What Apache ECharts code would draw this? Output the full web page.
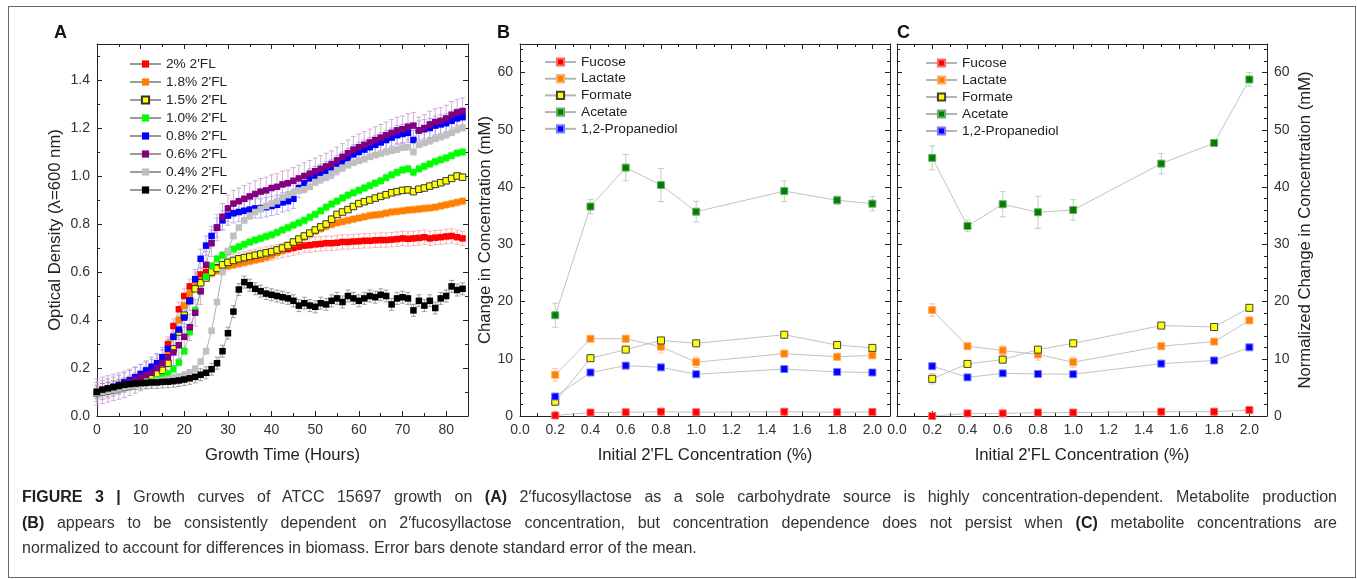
<!DOCTYPE html>
<html>
<head>
<meta charset="utf-8">
<script src="https://cdn.jsdelivr.net/npm/echarts@6/dist/echarts.min.js"></script>
<style>
  body { margin: 0; background: #fff; }
  #frame { position: absolute; left: 8px; top: 6px; width: 1346px; height: 570px; border: 1px solid #666; }
  #chart { position: absolute; left: 0; top: 0; width: 1357px; height: 579px; }
  #caption {
    position: absolute; left: 22px; top: 484px; width: 1315px;
    font-family: 'Liberation Sans', Arial, sans-serif; font-size: 16px; line-height: 25.5px; color: #333;
  }
  #caption .j { text-align: justify; text-align-last: justify; }
  #caption b { color: #222; }
</style>
</head>
<body>
<div id="frame"></div>
<div id="chart"></div>
<div id="caption">
  <div class="j"><b>FIGURE 3 |</b> Growth curves of ATCC 15697 growth on <b>(A)</b> 2′fucosyllactose as a sole carbohydrate source is highly concentration-dependent. Metabolite production</div>
  <div class="j"><b>(B)</b> appears to be consistently dependent on 2′fucosyllactose concentration, but concentration dependence does not persist when <b>(C)</b> metabolite concentrations are</div>
  <div>normalized to account for differences in biomass. Error bars denote standard error of the mean.</div>
</div>
<script>
// ---- panel A : growth curves ----
const timeA = [0, 1.25, 2.5, 3.75, 5, 6.25, 7.5, 8.75,
  10, 11.25, 12.5, 13.75, 15, 16.25, 17.5, 18.75,
  20, 21.25, 22.5, 23.75, 25, 26.25, 27.5, 28.75,
  30, 31.25, 32.5, 33.75, 35, 36.25, 37.5, 38.75,
  40, 41.25, 42.5, 43.75, 45, 46.25, 47.5, 48.75,
  50, 51.25, 52.5, 53.75, 55, 56.25, 57.5, 58.75,
  60, 61.25, 62.5, 63.75, 65, 66.25, 67.5, 68.75,
  70, 71.25, 72.5, 73.75, 75, 76.25, 77.5, 78.75,
  80, 81.25, 82.5, 83.75]

const namesA = ["2% 2'FL", "1.8% 2'FL", "1.5% 2'FL", "1.0% 2'FL", "0.8% 2'FL", "0.6% 2'FL", "0.4% 2'FL", "0.2% 2'FL"]
const colorsA = ['#ff0000', '#ff7f00', '#ffff00', '#00ff00', '#0000ff', '#800080', '#c0c0c0', '#000000']
const errColorsA = ['#f5a3a3', '#f9c796', '#c9c97a', '#99e699', '#9d9dff', '#c99ac9', '#d6d6d6', '#8a8a8a']
const seA = [0.03, 0.015, 0.01, 0.015, 0.04, 0.055, 0.012, 0.025]

const od2 = [0.100, 0.105, 0.110, 0.118, 0.124, 0.130, 0.140, 0.150,
  0.160, 0.175, 0.190, 0.210, 0.245, 0.300, 0.375, 0.445,
  0.500, 0.540, 0.570, 0.590, 0.600, 0.610, 0.620, 0.630,
  0.640, 0.645, 0.650, 0.655, 0.660, 0.665, 0.670, 0.675,
  0.680, 0.685, 0.690, 0.695, 0.700, 0.705, 0.710, 0.712,
  0.715, 0.717, 0.720, 0.720, 0.722, 0.725, 0.725, 0.727,
  0.728, 0.730, 0.730, 0.732, 0.733, 0.733, 0.735, 0.737,
  0.740, 0.738, 0.740, 0.742, 0.745, 0.740, 0.743, 0.745,
  0.748, 0.750, 0.745, 0.740]
const od18 = [0.100, 0.105, 0.110, 0.117, 0.123, 0.128, 0.137, 0.146,
  0.155, 0.167, 0.180, 0.198, 0.220, 0.260, 0.330, 0.400,
  0.460, 0.510, 0.545, 0.565, 0.580, 0.595, 0.605, 0.615,
  0.625, 0.630, 0.635, 0.640, 0.645, 0.650, 0.655, 0.662,
  0.670, 0.680, 0.690, 0.705, 0.720, 0.733, 0.745, 0.758,
  0.770, 0.780, 0.790, 0.798, 0.805, 0.810, 0.815, 0.820,
  0.825, 0.830, 0.835, 0.838, 0.840, 0.845, 0.850, 0.852,
  0.855, 0.858, 0.860, 0.862, 0.865, 0.867, 0.870, 0.875,
  0.880, 0.885, 0.890, 0.895]
const od15 = [0.095, 0.100, 0.105, 0.110, 0.115, 0.120, 0.127, 0.135,
  0.143, 0.152, 0.162, 0.175, 0.190, 0.220, 0.280, 0.350,
  0.420, 0.480, 0.530, 0.555, 0.575, 0.600, 0.615, 0.630,
  0.640, 0.648, 0.655, 0.660, 0.665, 0.670, 0.675, 0.680,
  0.685, 0.692, 0.700, 0.710, 0.725, 0.737, 0.750, 0.762,
  0.775, 0.788, 0.800, 0.820, 0.840, 0.850, 0.860, 0.873,
  0.885, 0.893, 0.900, 0.908, 0.915, 0.922, 0.930, 0.935,
  0.940, 0.942, 0.935, 0.945, 0.950, 0.958, 0.965, 0.972,
  0.980, 0.990, 1.000, 0.995]
const od10 = [0.095, 0.100, 0.105, 0.110, 0.115, 0.120, 0.125, 0.130,
  0.135, 0.140, 0.145, 0.152, 0.162, 0.175, 0.195, 0.223,
  0.270, 0.350, 0.440, 0.520, 0.580, 0.625, 0.655, 0.670,
  0.685, 0.695, 0.705, 0.715, 0.725, 0.733, 0.740, 0.748,
  0.755, 0.765, 0.775, 0.785, 0.795, 0.805, 0.815, 0.828,
  0.840, 0.855, 0.870, 0.883, 0.895, 0.908, 0.920, 0.930,
  0.940, 0.950, 0.960, 0.970, 0.980, 0.993, 1.005, 1.015,
  1.025, 1.030, 1.015, 1.030, 1.040, 1.050, 1.060, 1.068,
  1.075, 1.085, 1.095, 1.100]
const od08 = [0.100, 0.108, 0.115, 0.122, 0.130, 0.140, 0.150, 0.162,
  0.175, 0.190, 0.205, 0.220, 0.245, 0.280, 0.330, 0.360,
  0.410, 0.480, 0.570, 0.655, 0.710, 0.750, 0.785, 0.815,
  0.835, 0.845, 0.850, 0.855, 0.860, 0.865, 0.865, 0.870,
  0.875, 0.880, 0.890, 0.895, 0.905, 0.950, 0.970, 0.990,
  1.000, 1.010, 1.020, 1.030, 1.045, 1.060, 1.075, 1.090,
  1.100, 1.110, 1.120, 1.130, 1.140, 1.150, 1.160, 1.170,
  1.175, 1.180, 1.150, 1.190, 1.195, 1.200, 1.210, 1.215,
  1.220, 1.230, 1.240, 1.245]
const od06 = [0.100, 0.107, 0.113, 0.119, 0.125, 0.132, 0.140, 0.150,
  0.160, 0.170, 0.180, 0.200, 0.220, 0.245, 0.265, 0.295,
  0.330, 0.370, 0.430, 0.520, 0.630, 0.720, 0.785, 0.830,
  0.865, 0.885, 0.895, 0.905, 0.915, 0.925, 0.935, 0.940,
  0.950, 0.955, 0.965, 0.970, 0.980, 0.990, 1.000, 1.010,
  1.020, 1.030, 1.040, 1.050, 1.065, 1.080, 1.095, 1.110,
  1.120, 1.130, 1.140, 1.150, 1.160, 1.170, 1.180, 1.190,
  1.195, 1.205, 1.210, 1.190, 1.200, 1.215, 1.225, 1.230,
  1.240, 1.255, 1.265, 1.270]
const od04 = [0.095, 0.100, 0.105, 0.110, 0.115, 0.120, 0.125, 0.130,
  0.135, 0.138, 0.142, 0.146, 0.150, 0.155, 0.160, 0.165,
  0.172, 0.182, 0.197, 0.227, 0.270, 0.355, 0.475, 0.600,
  0.687, 0.750, 0.785, 0.815, 0.835, 0.850, 0.862, 0.875,
  0.885, 0.895, 0.910, 0.920, 0.930, 0.940, 0.945, 0.955,
  0.975, 0.987, 0.995, 1.010, 1.025, 1.035, 1.045, 1.055,
  1.063, 1.070, 1.080, 1.087, 1.093, 1.100, 1.105, 1.110,
  1.118, 1.120, 1.100, 1.130, 1.138, 1.145, 1.155, 1.162,
  1.170, 1.180, 1.192, 1.200]
const od02 = [0.100, 0.110, 0.115, 0.120, 0.125, 0.130, 0.133, 0.135,
  0.137, 0.138, 0.140, 0.140, 0.142, 0.143, 0.145, 0.148,
  0.152, 0.157, 0.163, 0.172, 0.180, 0.195, 0.220, 0.270,
  0.345, 0.435, 0.527, 0.558, 0.545, 0.530, 0.520, 0.510,
  0.505, 0.500, 0.495, 0.490, 0.480, 0.460, 0.470, 0.460,
  0.455, 0.470, 0.465, 0.480, 0.490, 0.475, 0.500, 0.490,
  0.480, 0.490, 0.500, 0.495, 0.505, 0.500, 0.465, 0.490,
  0.495, 0.490, 0.440, 0.480, 0.460, 0.480, 0.450, 0.490,
  0.500, 0.540, 0.525, 0.530]
const valuesA = [od2, od18, od15, od10, od08, od06, od04, od02]

// ---- panels B and C : metabolites ----
const concB = [0.2, 0.4, 0.6, 0.8, 1.0, 1.5, 1.8, 2.0]
const metNames = ['Fucose', 'Lactate', 'Formate', 'Acetate', '1,2-Propanediol']
const metColors = ['#ff0000', '#ff7f00', '#ffff00', '#008000', '#0000ff']
const metBorders = ['#ff6a6a', '#ffad66', '#404040', '#6fae6f', '#7c7cff']
const metErrColors = ['#700000', '#f7b98a', '#d9b98a', '#9fcf9f', '#9d9dff']

const fucoseB = [0.1, 0.6, 0.65, 0.75, 0.65, 0.75, 0.65, 0.7]
const lactateB = [7.2, 13.5, 13.5, 12.1, 9.4, 10.9, 10.35, 10.6]
const formateB = [2.5, 10.1, 11.6, 13.2, 12.7, 14.2, 12.4, 11.9]
const acetateB = [17.6, 36.6, 43.4, 40.35, 35.7, 39.3, 37.7, 37.1]
const propB = [3.4, 7.6, 8.8, 8.5, 7.3, 8.2, 7.7, 7.6]
const fucoseBErr = [0.5, 0.5, 0.5, 0.5, 0.5, 0.5, 0.5, 0.5]
const lactateBErr = [1.1, 0.3, 0.6, 1.1, 0.9, 0.6, 0.3, 0.3]
const formateBErr = [0.6, 0.4, 0.4, 0.4, 0.3, 0.3, 0.3, 0.4]
const acetateBErr = [2.1, 1.25, 2.3, 2.9, 1.8, 1.8, 0.75, 1.25]
const propBErr = [0.3, 0.3, 0.3, 0.3, 0.3, 0.3, 0.3, 0.3]

const fucoseC = [0.0, 0.45, 0.45, 0.6, 0.6, 0.75, 0.75, 1.05]
const lactateC = [18.5, 12.2, 11.45, 10.75, 9.4, 12.2, 13.0, 16.7]
const formateC = [6.5, 9.1, 9.85, 11.6, 12.7, 15.8, 15.55, 18.9]
const acetateC = [45.1, 33.2, 37.0, 35.6, 36.0, 44.1, 47.7, 58.8]
const propC = [8.7, 6.75, 7.45, 7.35, 7.3, 9.15, 9.7, 12.0]
const fucoseCErr = [0.5, 0.5, 0.5, 0.5, 0.5, 0.5, 0.5, 0.5]
const lactateCErr = [1.1, 0.4, 0.8, 1.0, 0.9, 0.6, 0.3, 0.3]
const formateCErr = [0.9, 0.4, 0.6, 0.5, 0.3, 0.4, 0.4, 0.3]
const acetateCErr = [2.1, 1.0, 2.2, 2.8, 1.8, 1.8, 0.5, 1.2]
const propCErr = [0.3, 0.3, 0.3, 0.3, 0.3, 0.3, 0.3, 0.3]

const valuesB = [fucoseB, lactateB, formateB, acetateB, propB]
const errB = [fucoseBErr, lactateBErr, formateBErr, acetateBErr, propBErr]
const valuesC = [fucoseC, lactateC, formateC, acetateC, propC]
const errC = [fucoseCErr, lactateCErr, formateCErr, acetateCErr, propCErr]

const FONT = "'Liberation Sans', Arial, Helvetica, sans-serif"

function makeAxis(gridIndex, position, min, max, interval, minorSplit, labelShow, labelFmt, name, nameGap) {
  var vertical = position === 'left' || position === 'right'
  return {
    type: 'value', gridIndex: gridIndex, position: position,
    min: min, max: max, interval: interval,
    name: name || '', nameLocation: 'middle', nameGap: nameGap || 30,
    nameRotate: vertical ? 90 : 0,
    nameTextStyle: { fontSize: 16.7, color: '#222', fontFamily: FONT },
    axisLine: { show: true, onZero: false, lineStyle: { color: '#222', width: 1 } },
    axisTick: { show: true, inside: true, length: 5, lineStyle: { color: '#222' } },
    minorTick: { show: true, splitNumber: minorSplit, length: 3, lineStyle: { color: '#222' } },
    splitLine: { show: false },
    axisLabel: { show: labelShow, fontSize: 14, color: '#333', fontFamily: FONT, margin: 7, formatter: labelFmt }
  }
}

// labels only on the major multiples
const fmtHours = v => (Math.round(v) % 10 === 0 && Math.abs(v - Math.round(v)) < 1e-6) ? String(Math.round(v)) : ''
const fmtTenth = v => (Math.round(v * 100) % 20 === 0) ? v.toFixed(1) : ''
const fmtTens = v => (Math.round(v) % 10 === 0) ? String(Math.round(v)) : ''

function errSeries(xIdx, yIdx, xs, ys, errs, color, cap) {
  return {
    type: 'custom', name: 'err', xAxisIndex: xIdx, yAxisIndex: yIdx, z: 1, silent: true,
    data: xs.map((x, i) => [x, ys[i] - errs[i], ys[i] + errs[i]]),
    renderItem: function (params, api) {
      var lo = api.coord([api.value(0), api.value(1)])
      var hi = api.coord([api.value(0), api.value(2)])
      var st = { stroke: color, lineWidth: 0.8 }
      return {
        type: 'group', children: [
          { type: 'line', shape: { x1: lo[0], y1: lo[1], x2: hi[0], y2: hi[1] }, style: st },
          { type: 'line', shape: { x1: lo[0] - cap, y1: lo[1], x2: lo[0] + cap, y2: lo[1] }, style: st },
          { type: 'line', shape: { x1: hi[0] - cap, y1: hi[1], x2: hi[0] + cap, y2: hi[1] }, style: st }
        ]
      }
    }
  }
}

function lineSeries(name, xIdx, yIdx, xs, ys, color, border, size, lineColor) {
  return {
    type: 'line', name: name, xAxisIndex: xIdx, yAxisIndex: yIdx, z: 2,
    data: xs.map((x, i) => [x, ys[i]]),
    symbol: 'rect', symbolSize: size, showAllSymbol: true,
    lineStyle: { color: lineColor, width: 0.8 },
    itemStyle: { color: color, borderColor: border, borderWidth: border === color ? 0 : 1 },
    emphasis: { disabled: true }
  }
}

var series = []
valuesA.forEach(function (vals, i) {
  series.push(errSeries(0, 0, timeA, vals, timeA.map(() => seA[i]), errColorsA[i], 2.5))
})
valuesA.forEach(function (vals, i) {
  var border = i === 2 ? '#333333' : colorsA[i]
  series.push(lineSeries(namesA[i], 0, 0, timeA, vals, colorsA[i], border, 6.5, '#9a9a9a'))
})
valuesB.forEach(function (vals, i) {
  series.push(errSeries(2, 2, concB, vals, errB[i], metErrColors[i], 3))
  series.push(errSeries(4, 4, concB, valuesC[i], errC[i], metErrColors[i], 3))
})
valuesB.forEach(function (vals, i) {
  series.push(lineSeries(metNames[i], 2, 2, concB, vals, metColors[i], metBorders[i], 7, '#b4b4b4'))
})
valuesC.forEach(function (vals, i) {
  series.push(lineSeries(metNames[i], 4, 4, concB, vals, metColors[i], metBorders[i], 7, '#b4b4b4'))
})

function legendAt(left, top, names, gap) {
  return {
    data: names, orient: 'vertical', left: left, top: top,
    itemWidth: 31, itemHeight: 9, itemGap: gap, selectedMode: false,
    textStyle: { fontSize: 13.7, color: '#222', fontFamily: FONT, lineHeight: 14 }
  }
}

function letter(text, x, y) {
  return { type: 'text', left: x, top: y, style: { text: text, fontSize: 18, fontWeight: 'bold', fill: '#111', fontFamily: FONT } }
}

var option = {
  animation: false,
  backgroundColor: 'transparent',
  grid: [
    { left: 97, top: 44, width: 371, height: 372, outerBoundsMode: 'none' },
    { left: 520, top: 44, width: 370, height: 372, outerBoundsMode: 'none' },
    { left: 897, top: 44, width: 370, height: 372, outerBoundsMode: 'none' }
  ],
  xAxis: [
    makeAxis(0, 'bottom', 0, 85, 10, 2, true, fmtHours, 'Growth Time (Hours)', 31),
    makeAxis(0, 'top', 0, 85, 10, 2, false),
    makeAxis(1, 'bottom', 0, 2.1, 0.2, 2, true, fmtTenth, "Initial 2'FL Concentration (%)", 31),
    makeAxis(1, 'top', 0, 2.1, 0.2, 2, false),
    makeAxis(2, 'bottom', 0, 2.1, 0.2, 2, true, fmtTenth, "Initial 2'FL Concentration (%)", 31),
    makeAxis(2, 'top', 0, 2.1, 0.2, 2, false)
  ],
  yAxis: [
    makeAxis(0, 'left', 0, 1.55, 0.2, 2, true, fmtTenth, 'Optical Density (\u03bb=600 nm)', 33),
    makeAxis(0, 'right', 0, 1.55, 0.2, 2, false),
    makeAxis(1, 'left', 0, 65, 10, 5, true, fmtTens, 'Change in Concentration (mM)', 26),
    makeAxis(1, 'right', 0, 65, 10, 5, false),
    makeAxis(2, 'left', 0, 65, 10, 5, false),
    makeAxis(2, 'right', 0, 65, 10, 5, true, fmtTens, 'Normalized Change in Concentration (mM)', 30)
  ],
  legend: [
    legendAt(124, 52, namesA, 4),
    legendAt(539, 50, metNames, 2.7),
    legendAt(920, 51, metNames, 3)
  ],
  graphic: [letter('A', 54, 24), letter('B', 497, 24), letter('C', 897, 24)],
  series: series
}

var chart = echarts.init(document.getElementById('chart'), null, { renderer: 'canvas' })
chart.setOption(option)
</script>
</body>
</html>
